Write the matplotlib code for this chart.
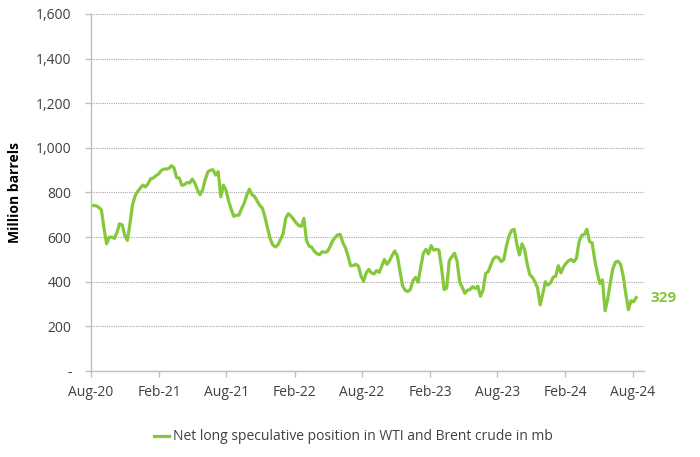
import numpy as np
import pandas as pd
import matplotlib
matplotlib.use('Agg')
import matplotlib.pyplot as plt
import matplotlib.dates as mdates
from matplotlib.ticker import FuncFormatter

plt.rcParams['font.family'] = ['Open Sans', 'DejaVu Sans']

# Daten: woechentliche Netto-Long-Position (Mio. Barrel)
start = '2020-08-04'
netto_long = [
    740, 742, 740, 733, 722, 640, 570, 600, 600, 594,
    620, 660, 655, 608, 585, 660, 745, 785, 805, 820,
    833, 825, 840, 862, 865, 875, 883, 898, 905, 905,
    908, 920, 910, 866, 865, 832, 835, 845, 842, 860,
    842, 812, 790, 812, 858, 892, 900, 902, 878, 893,
    781, 833, 810, 762, 725, 693, 698, 699, 728, 752,
    788, 815, 790, 782, 762, 742, 730, 690, 640, 593,
    565, 556, 565, 590, 615, 685, 705, 695, 680, 664,
    652, 648, 684, 585, 560, 555, 537, 526, 521, 534,
    532, 535, 555, 582, 598, 610, 612, 575, 552, 515,
    472, 473, 478, 470, 425, 402, 440, 455, 440, 435,
    450, 442, 470, 500, 478, 495, 518, 538, 515, 448,
    382, 362, 356, 365, 405, 420, 398, 465, 528, 545,
    525, 562, 542, 545, 542, 465, 365, 372, 495, 512,
    528, 492, 400, 375, 348, 362, 365, 378, 370, 380,
    335, 362, 437, 445, 475, 503, 512, 508, 490, 500,
    560, 605, 630, 635, 570, 520, 570, 545, 480, 432,
    420, 400, 372, 296, 345, 400, 385, 395, 420, 425,
    472, 440, 467, 483, 495, 500, 490, 505, 580, 608,
    612, 635, 580, 575, 500, 440, 392, 408, 270, 320,
    395, 458, 488, 492, 478, 425, 345, 275, 315, 310,
    329,
]
datum = pd.date_range(start, periods=len(netto_long), freq='7D')

label = 'Net long speculative position in WTI and Brent crude in mb'
gruen = '#86c83c'
grau = '#bfbfbf'

fig = plt.figure(figsize=(7, 4.57), dpi=100)
ax = fig.add_axes([0.13, 0.1882, 0.79, 0.7812])

ax.plot(datum, netto_long, color=gruen, lw=2.3, label=label)

ax.set_ylim(0, 1600)
ax.set_yticks(np.arange(0, 1601, 200))
ax.yaxis.set_major_formatter(FuncFormatter(lambda v, p: '-' if v == 0 else f'{v:,.0f}'))
ax.grid(axis='y', color='#a6a6a6', lw=0.8, ls=(0, (1, 1)))
ax.set_axisbelow(True)

x0 = pd.Timestamp(start)
ticks = [x0 + pd.DateOffset(months=6 * k) for k in range(9)]
ax.set_xticks(ticks)
ax.xaxis.set_major_formatter(mdates.DateFormatter('%b-%y'))
ax.set_xlim(x0, pd.Timestamp('2024-09-03'))

for s in ['top', 'right']:
    ax.spines[s].set_visible(False)
for s in ['left', 'bottom']:
    ax.spines[s].set_color(grau)
    ax.spines[s].set_linewidth(1.0)
ax.tick_params(axis='both', colors=grau, labelcolor='#404040', labelsize=10, length=4, width=1.0)
ax.tick_params(axis='y', pad=10)
ax.tick_params(axis='x', pad=6)

ax.set_ylabel('Million barrels', fontsize=10, fontweight='bold', color='black', labelpad=10)

ax.annotate(f'{netto_long[-1]}', xy=(datum[-1], netto_long[-1]), xytext=(10, 0),
            textcoords='offset points', va='center', ha='left',
            color=gruen, fontsize=11, fontweight='bold')

fig.legend(loc='center', bbox_to_anchor=(0.505, 0.044), frameon=False, fontsize=10,
           handlelength=1.1, handletextpad=0.3, labelcolor='#404040')

fig.savefig('out.png', dpi=100)
